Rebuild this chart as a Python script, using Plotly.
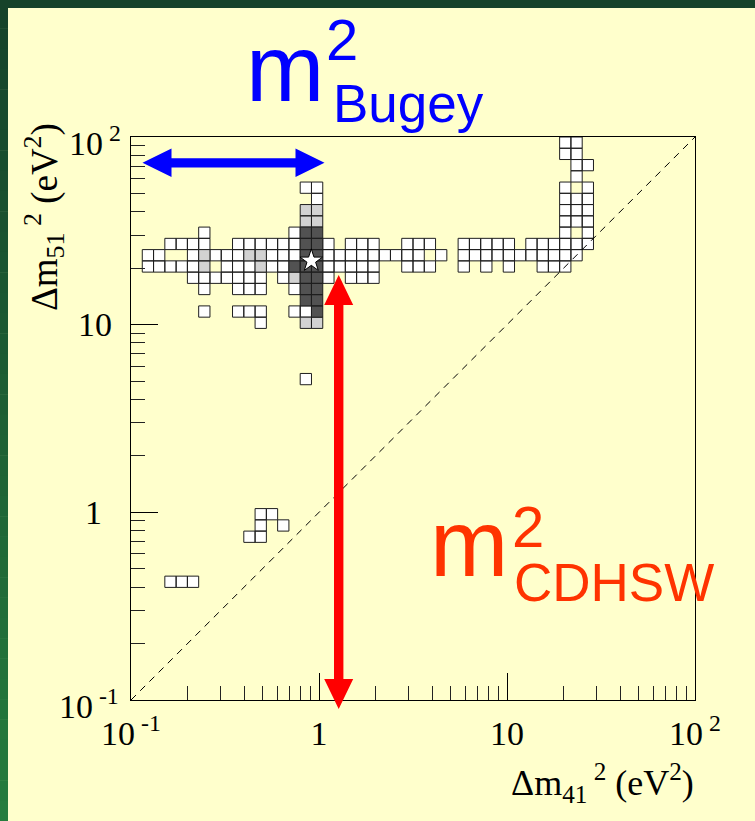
import numpy as np
import plotly.graph_objects as go

# ---------------------------------------------------------------------------
# Scan binning: 50 logarithmic bins per axis, 0.1 - 100 eV^2
N_BINS = 50
LOG_MIN, LOG_MAX = -1.0, 2.0

# Occupied bins, row by row: {iy (Δm²51 bin): [ix (Δm²41 bins)]}
white_rows = {
    49: [38, 39],
    48: [38, 39],
    47: [39, 40],
    46: [39],
    45: [15, 16, 38, 40],
    44: [16, 38, 39, 40],
    43: [38, 39, 40],
    42: [38, 39, 40],
    41: [6, 14, 38, 40],
    40: [3, 4, 5, 6, 9, 10, 11, 12, 13, 14, 17, 19, 20, 21, 24, 25, 26,
         29, 30, 31, 32, 33, 35, 36, 37, 38, 39, 40],
    39: [1, 2, 5, 7, 8, 9, 12, 13, 14, 17, 18, 19, 20, 21, 22, 23, 24, 25,
         27, 29, 30, 31, 32, 33, 34, 35, 36, 37, 38, 39],
    38: [1, 2, 3, 4, 5, 8, 9, 10, 12, 13, 17, 18, 19, 20, 21, 24, 25, 26,
         29, 31, 33, 36, 37, 38],
    37: [5, 6, 7, 8, 9, 10, 11, 13, 17, 19, 20, 21],
    36: [6, 9, 10, 11, 14],
    34: [6, 9, 10, 11, 14, 15],
    33: [11],
    28: [15],
    16: [11, 12],
    15: [11, 13],
    14: [10, 11],
    10: [3, 4, 5],
}
light_rows = {
    43: [15, 16],
    42: [15, 16],
    39: [6, 10, 11],
    38: [6, 11],
    37: [14],
    33: [15, 16],
}
dark_rows = {
    41: [15, 16],
    40: [15, 16],
    39: [15, 16],
    38: [14, 15, 16],
    37: [15, 16],
    36: [15, 16],
    35: [15, 16],
    34: [16],
}

# best-fit point (Δm²41, Δm²51) in eV^2
best_fit_dm41 = [0.91]
best_fit_dm51 = [21.9]

# axis ticks
tick_vals = [0.1, 1, 10, 100]
tick_text = ["10<sup> -1</sup>", "1", "10", "10<sup> 2</sup>"]

# ---------------------------------------------------------------------------
edges = np.logspace(LOG_MIN, LOG_MAX, N_BINS + 1)

BG = "#ffffcc"
FRAME = "#000000"
SERIF = "Liberation Serif"
SANS = "Liberation Sans"


def cell_outline(rows):
    xs, ys = [], []
    for iy, cols in rows.items():
        for ix in cols:
            x0, x1 = edges[ix], edges[ix + 1]
            y0, y1 = edges[iy], edges[iy + 1]
            xs += [x0, x1, x1, x0, x0, None]
            ys += [y0, y0, y1, y1, y0, None]
    return xs, ys


fig = go.Figure()

for rows, fill in [(white_rows, "#ffffff"), (light_rows, "#d2d2d2"),
                   (dark_rows, "#525252")]:
    xs, ys = cell_outline(rows)
    fig.add_trace(go.Scatter(
        x=xs, y=ys, mode="lines", fill="toself", fillcolor=fill,
        line=dict(color="#1e1e1e", width=1), hoverinfo="skip",
        showlegend=False))

# Δm²51 = Δm²41 diagonal
fig.add_trace(go.Scatter(
    x=[edges[0], edges[-1]], y=[edges[0], edges[-1]], mode="lines",
    line=dict(color="#000000", width=1, dash="7px,6px"),
    hoverinfo="skip", showlegend=False))

fig.add_trace(go.Scatter(
    x=best_fit_dm41, y=best_fit_dm51, mode="markers",
    marker=dict(symbol="star", size=17, color="#ffffff",
                line=dict(color="#000000", width=1)),
    hoverinfo="skip", showlegend=False))

# ---------------------------------------------------------------------------
# page geometry (pixels) for decorations placed in paper coordinates
W, H = 755, 821
L, R, T, B = 131, 695, 137, 700


def px(x):
    return (x - L) / (R - L)


def py(y):
    return (B - y) / (B - T)


shapes = []

# green frame: dark strip on top, shaded strip on the left
shapes.append(dict(type="rect", xref="paper", yref="paper",
                   x0=px(0), x1=px(W), y0=py(0), y1=py(8),
                   fillcolor="#16432a", line=dict(width=0), layer="above"))
n_band = 40
top_c = np.array([22, 67, 42])
bot_c = np.array([38, 124, 62])
for i in range(n_band):
    f = i / (n_band - 1)
    c = (top_c + (bot_c - top_c) * f).astype(int)
    y0 = 8 + (H - 8) * i / n_band
    y1 = 8 + (H - 8) * (i + 1) / n_band + 0.5
    shapes.append(dict(type="rect", xref="paper", yref="paper",
                       x0=px(0), x1=px(8), y0=py(y1), y1=py(y0),
                       fillcolor=f"rgb({c[0]},{c[1]},{c[2]})",
                       line=dict(width=0), layer="above"))


def double_arrow_h(x_left, x_right, yc, head_len, head_half, shaft_half):
    pts = [(x_left, yc), (x_left + head_len, yc - head_half),
           (x_left + head_len, yc - shaft_half),
           (x_right - head_len, yc - shaft_half),
           (x_right - head_len, yc - head_half), (x_right, yc),
           (x_right - head_len, yc + head_half),
           (x_right - head_len, yc + shaft_half),
           (x_left + head_len, yc + shaft_half),
           (x_left + head_len, yc + head_half)]
    return "M " + " L ".join(f"{px(a):.5f},{py(b):.5f}" for a, b in pts) + " Z"


def double_arrow_v(xc, y_top, y_bot, head_len, head_half, shaft_half):
    pts = [(xc, y_top), (xc + head_half, y_top + head_len),
           (xc + shaft_half, y_top + head_len),
           (xc + shaft_half, y_bot - head_len),
           (xc + head_half, y_bot - head_len), (xc, y_bot),
           (xc - head_half, y_bot - head_len),
           (xc - shaft_half, y_bot - head_len),
           (xc - shaft_half, y_top + head_len),
           (xc - head_half, y_top + head_len)]
    return "M " + " L ".join(f"{px(a):.5f},{py(b):.5f}" for a, b in pts) + " Z"


shapes.append(dict(type="path", xref="paper", yref="paper",
                   path=double_arrow_h(142.5, 324.5, 162.8, 29, 14.3, 4.6),
                   fillcolor="#0000ff", line=dict(width=0), layer="above"))
shapes.append(dict(type="path", xref="paper", yref="paper",
                   path=double_arrow_v(338.7, 275, 709, 30, 14.5, 4.7),
                   fillcolor="#ff0000", line=dict(width=0), layer="above"))

annotations = []


def label(text, x, y, size, color, family=SANS, angle=0, xa="center"):
    annotations.append(dict(
        text=text, x=px(x), y=py(y), xref="paper", yref="paper",
        showarrow=False, xanchor=xa, yanchor="middle", textangle=angle,
        font=dict(family=family, size=size, color=color)))


# experiment labels
label("m", 285, 69, 94, "#0000ff")
label("2", 342, 40, 58, "#0000ff")
label("Bugey", 408, 103, 53, "#0000ff")

label("m", 469, 543, 94, "#ff3300")
label("2", 528, 526, 58, "#ff3300")
label("CDHSW", 614, 582, 53, "#ff3300")

# axis titles
label("Δm<sub>41</sub><sup> 2</sup> (eV<sup>2</sup>)", 602, 783, 36,
      "#000000", family=SERIF)
label("Δm<sub>51</sub><sup> 2</sup> (eV<sup>2</sup>)", 44, 217, 37,
      "#000000", family=SERIF, angle=-90)

# Δm²51 tick labels, with the exponent hanging past the mantissa
y_label_right = [121, 104, 114, 123]
for v, t, xr in zip(tick_vals, tick_text, y_label_right):
    annotations.append(dict(
        text=t, x=px(xr), y=float(np.log10(v)), xref="paper", yref="y",
        showarrow=False, xanchor="right", yanchor="middle", yshift=-4 if "sup" in t else 0,
        font=dict(family=SERIF, size=34, color="#000000")))

axis_common = dict(
    type="log", range=[LOG_MIN, LOG_MAX],
    tickmode="array", tickvals=tick_vals, ticktext=tick_text,
    ticks="inside", ticklen=27, tickwidth=1, tickcolor="#000000",
    minor=dict(ticks="inside", ticklen=14, tickwidth=1, tickcolor="#222222",
               dtick="D1", showgrid=False),
    showline=True, linecolor=FRAME, linewidth=1, mirror=True,
    showgrid=False, zeroline=False,
    tickfont=dict(family=SERIF, size=34, color="#000000"),
)

fig.update_layout(
    width=W, height=H,
    margin=dict(l=L, r=W - R, t=T, b=H - B, pad=0),
    paper_bgcolor=BG, plot_bgcolor=BG,
    xaxis=dict(axis_common, ticklabelstandoff=3),
    yaxis=dict(axis_common, showticklabels=False),
    shapes=shapes, annotations=annotations,
    showlegend=False,
)

fig.write_html("out.html")
